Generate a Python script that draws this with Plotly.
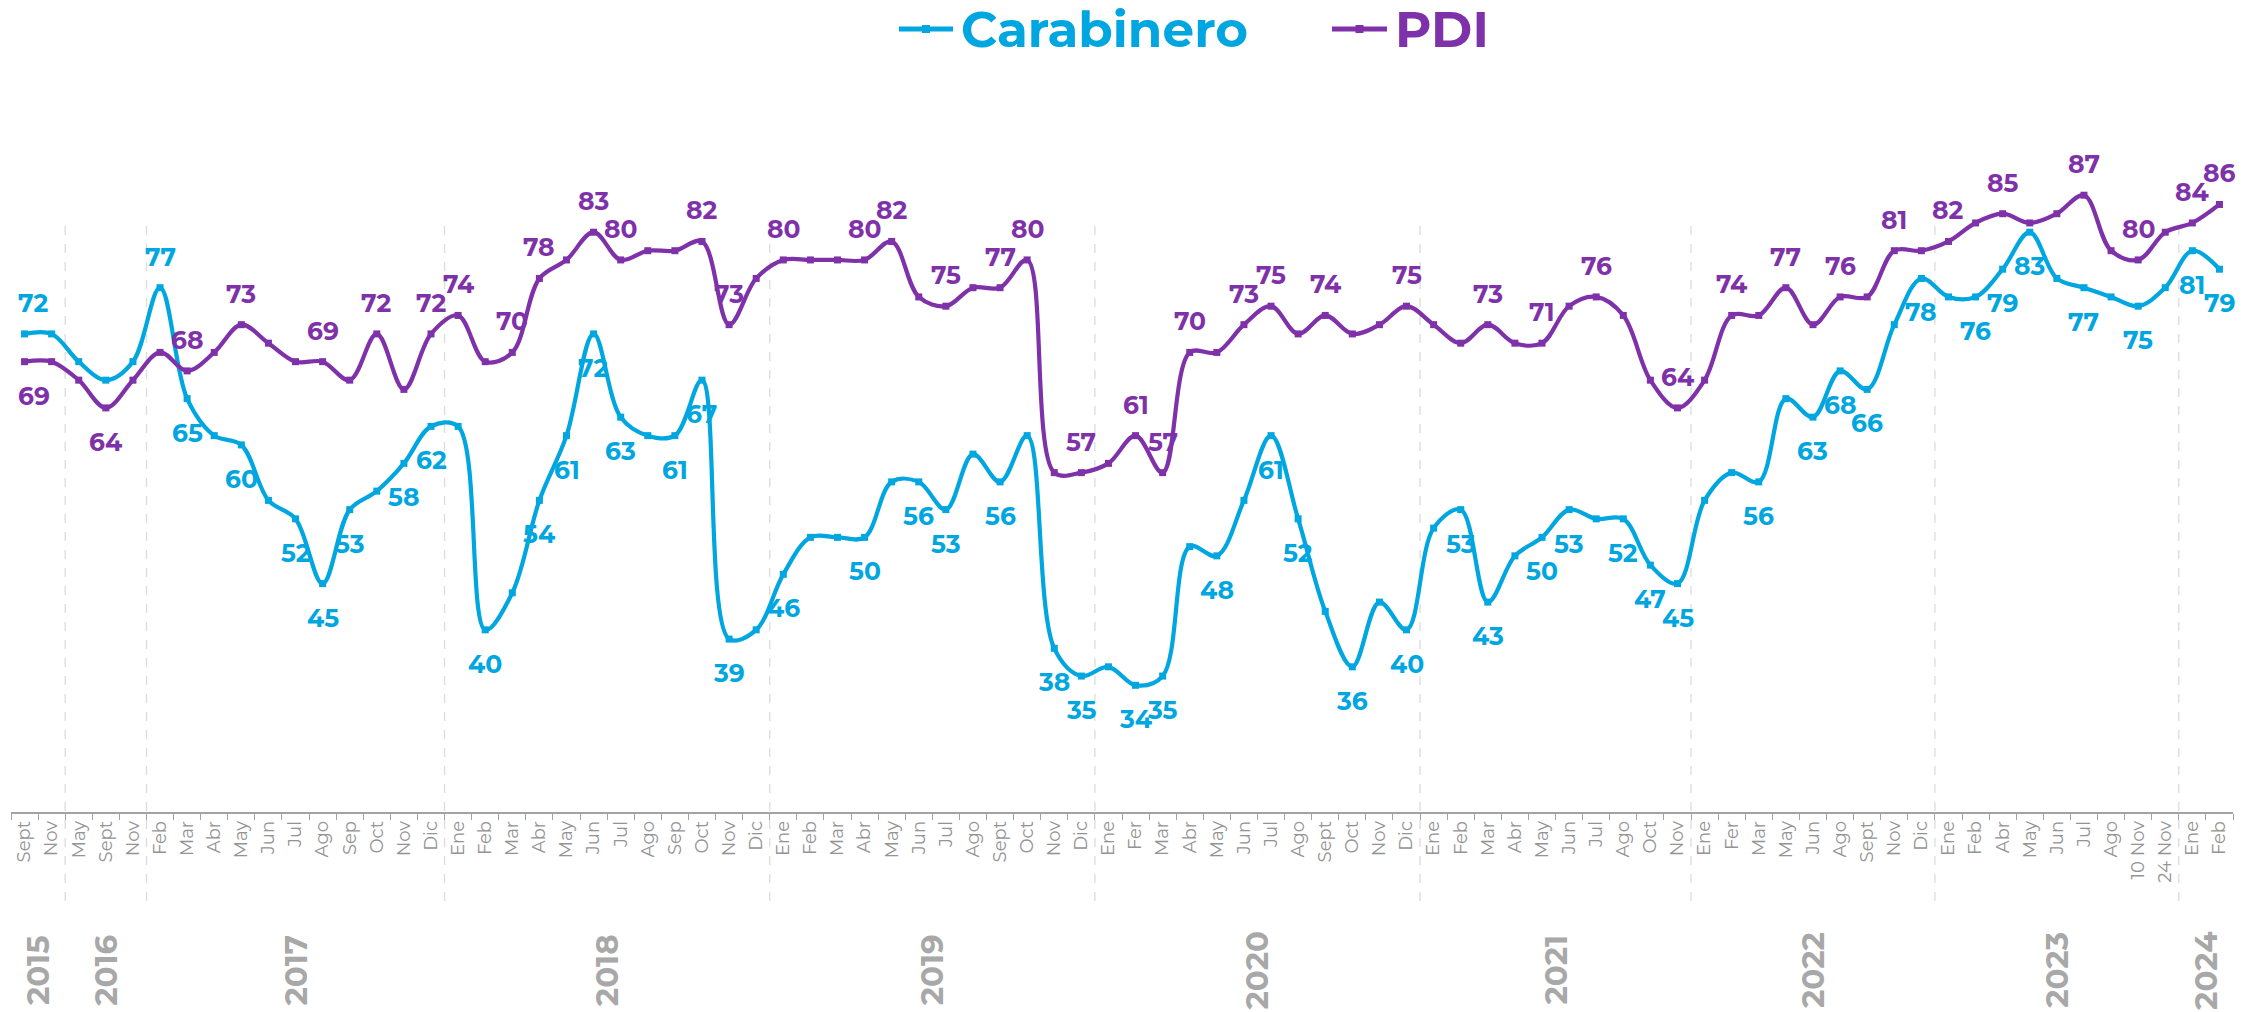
import plotly.graph_objects as go

# ---------------- data ----------------
year_labels = ["2015", "2016", "2017", "2018", "2019", "2020", "2021", "2022", "2023", "2024"]
months_2015 = ["Sept", "Nov"]
months_2016 = ["May", "Sept", "Nov"]
months_2017 = ["Feb", "Mar", "Abr", "May", "Jun", "Jul", "Ago", "Sep", "Oct", "Nov", "Dic"]
months_2018 = ["Ene", "Feb", "Mar", "Abr", "May", "Jun", "Jul", "Ago", "Sep", "Oct", "Nov", "Dic"]
months_2019 = ["Ene", "Feb", "Mar", "Abr", "May", "Jun", "Jul", "Ago", "Sept", "Oct", "Nov", "Dic"]
months_2020 = ["Ene", "Fer", "Mar", "Abr", "May", "Jun", "Jul", "Ago", "Sept", "Oct", "Nov", "Dic"]
months_2021 = ["Ene", "Feb", "Mar", "Abr", "May", "Jun", "Jul", "Ago", "Oct", "Nov"]
months_2022 = ["Ene", "Fer", "Mar", "May", "Jun", "Ago", "Sept", "Nov", "Dic"]
months_2023 = ["Ene", "Feb", "Abr", "May", "Jun", "Jul", "Ago", "10 Nov", "24 Nov"]
months_2024 = ["Ene", "Feb"]
months_by_year = [months_2015, months_2016, months_2017, months_2018, months_2019,
                  months_2020, months_2021, months_2022, months_2023, months_2024]

series_names = ["Carabinero", "PDI"]
carabinero = [72, 72, 69, 67, 69,
              77, 65, 61, 60, 54, 52, 45, 53, 55, 58, 62,
              62, 40, 44, 54, 61, 72, 63, 61, 61, 67, 39, 40,
              46, 50, 50, 50, 56, 56, 53, 59, 56, 61, 38, 35,
              36, 34, 35, 49, 48, 54, 61, 52, 42, 36, 43, 40,
              51, 53, 43, 48, 50, 53, 52, 52, 47, 45,
              54, 57, 56, 65, 63, 68, 66, 73, 78,
              76, 76, 79, 83, 78, 77, 76, 75, 77,
              81, 79]
pdi = [69, 69, 67, 64, 67,
       70, 68, 70, 73, 71, 69, 69, 67, 72, 66, 72,
       74, 69, 70, 78, 80, 83, 80, 81, 81, 82, 73, 78,
       80, 80, 80, 80, 82, 76, 75, 77, 77, 80, 57, 57,
       58, 61, 57, 70, 70, 73, 75, 72, 74, 72, 73, 75,
       73, 71, 73, 71, 71, 75, 76, 74, 67, 64,
       67, 74, 74, 77, 73, 76, 76, 81, 81,
       82, 84, 85, 84, 85, 87, 81, 80, 83,
       84, 86]

# points that carry a value label
carabinero_labeled = [0, 5, 6, 8, 10, 11, 12, 14, 15, 17, 19, 20, 21, 22, 24, 25, 26, 28, 31, 33,
                      34, 36, 38, 39, 41, 42, 44, 46, 47, 49, 51, 53, 54, 56, 57, 59, 60, 61, 64,
                      66, 67, 68, 70, 72, 73, 74, 76, 78, 80, 81]
pdi_labeled = [0, 3, 6, 8, 11, 13, 15, 16, 18, 19, 21, 22, 25, 26, 28, 31, 32, 34, 36, 37, 39,
               41, 42, 43, 45, 46, 48, 51, 54, 56, 58, 61, 63, 65, 67, 69, 71, 73, 76, 78, 80, 81]

# ---------------- styles ----------------
BLUE = "#00a6e0"
PURPLE = "#7e31a8"
AXIS_GREY = "#a3a3a3"
TICK_GREY = "#949494"
YEAR_GREY = "#a8a8a8"
LABEL_FONT = "Montserrat, Open Sans, sans-serif"
carabinero_above = {0, 5}      # labels drawn above the point (others below)
pdi_below = {0, 3}             # labels drawn below the point (others above)
SHIFT_ABOVE = 31
SHIFT_BELOW = -34

W, H = 2262, 1012
M_L, M_R, M_T, M_B = 11, 29, 75, 200
PW, PH = W - M_L - M_R, H - M_T - M_B


def px_to_paper(xpx, ypx):
    return (xpx - M_L) / PW, (H - M_B - ypx) / PH


# ---------------- build ----------------
cats, ticktext, group_bounds = [], [], []
idx = 0
for yr, months in zip(year_labels, months_by_year):
    start = idx
    for m in months:
        cats.append(f"{m} {yr}")
        ticktext.append(m)
        idx += 1
    group_bounds.append((start, idx - 1))

fig = go.Figure()
for name, vals, col in [(series_names[0], carabinero, BLUE), (series_names[1], pdi, PURPLE)]:
    fig.add_trace(go.Scatter(
        x=cats, y=vals, mode="lines+markers", name=name, showlegend=False,
        line=dict(color=col, width=4.2, shape="spline", smoothing=1.0),
        marker=dict(symbol="square", size=7, color=col),
    ))

annotations = []
for i in carabinero_labeled:
    annotations.append(dict(
        x=cats[i], y=carabinero[i], xref="x", yref="y", text=f"<b>{carabinero[i]}</b>",
        showarrow=False, xanchor="center", yanchor="middle",
        yshift=SHIFT_ABOVE if i in carabinero_above else SHIFT_BELOW,
        xshift=9 if i == 0 else 0,
        font=dict(family=LABEL_FONT, size=25, color=BLUE)))
for i in pdi_labeled:
    annotations.append(dict(
        x=cats[i], y=pdi[i], xref="x", yref="y", text=f"<b>{pdi[i]}</b>",
        showarrow=False, xanchor="center", yanchor="middle",
        yshift=SHIFT_BELOW if i in pdi_below else SHIFT_ABOVE,
        xshift=9 if i == 0 else 0,
        font=dict(family=LABEL_FONT, size=25, color=PURPLE)))

# year labels
for yr, (a, b) in zip(year_labels, group_bounds):
    yp = px_to_paper(0, 970)[1]
    annotations.append(dict(
        x=(a + b) / 2, y=yp, xref="x", yref="paper", text=f"<b>{yr}</b>",
        showarrow=False, textangle=-90, xanchor="center", yanchor="middle",
        font=dict(family=LABEL_FONT, size=31, color=YEAR_GREY)))

# dashed year separators
shapes = []
sep_top = px_to_paper(0, 224)[1]
sep_bot = px_to_paper(0, 901)[1]
for (a, b) in group_bounds[:-1]:
    shapes.append(dict(type="line", xref="x", yref="paper", x0=b + 0.5, x1=b + 0.5,
                       y0=sep_bot, y1=sep_top, line=dict(color="#dcdcdc", width=1.3, dash="dash"),
                       layer="below"))

# custom legend (long line symbol with small square marker)
legend_items = [(series_names[0], BLUE, 899, 953, 959), (series_names[1], PURPLE, 1332, 1387, 1393)]
LEG_Y = 29
for name, col, lx0, lx1, tx in legend_items:
    x0, y0 = px_to_paper(lx0, LEG_Y)
    x1, _ = px_to_paper(lx1, LEG_Y)
    shapes.append(dict(type="line", xref="paper", yref="paper", x0=x0, x1=x1, y0=y0, y1=y0,
                       line=dict(color=col, width=5)))
    mx = (lx0 + lx1) / 2
    rx0, ry0 = px_to_paper(mx - 4, LEG_Y + 4)
    rx1, ry1 = px_to_paper(mx + 4, LEG_Y - 4)
    shapes.append(dict(type="rect", xref="paper", yref="paper", x0=rx0, x1=rx1, y0=ry0, y1=ry1,
                       line=dict(width=0), fillcolor=col))
    tx_p, ty_p = px_to_paper(tx, LEG_Y)
    annotations.append(dict(x=tx_p, y=ty_p, xref="paper", yref="paper", text=f"<b>{name}</b>",
                            showarrow=False, xanchor="left", yanchor="middle",
                            font=dict(family=LABEL_FONT, size=50, color=col)))

fig.update_layout(
    width=W, height=H,
    margin=dict(l=M_L, r=M_R, t=M_T, b=M_B, autoexpand=False),
    paper_bgcolor="white", plot_bgcolor="white",
    showlegend=False,
    annotations=annotations,
    shapes=shapes,
    xaxis=dict(type="category", categoryorder="array", categoryarray=cats,
               tickvals=cats, ticktext=ticktext, tickangle=-90,
               range=[-0.5, len(cats) - 0.5],
               tickson="boundaries", ticks="outside", ticklen=6, tickcolor=AXIS_GREY,
               showline=True, linecolor=AXIS_GREY, linewidth=1.5,
               showgrid=False, zeroline=False, automargin=False,
               tickfont=dict(family=LABEL_FONT, size=18, color=TICK_GREY)),
    yaxis=dict(range=[20.3, 100], visible=False, showgrid=False, zeroline=False),
)

fig.write_html("out.html",
               config={"displayModeBar": False},
               post_script="document.body.style.margin='0';document.body.style.overflow='hidden';")
